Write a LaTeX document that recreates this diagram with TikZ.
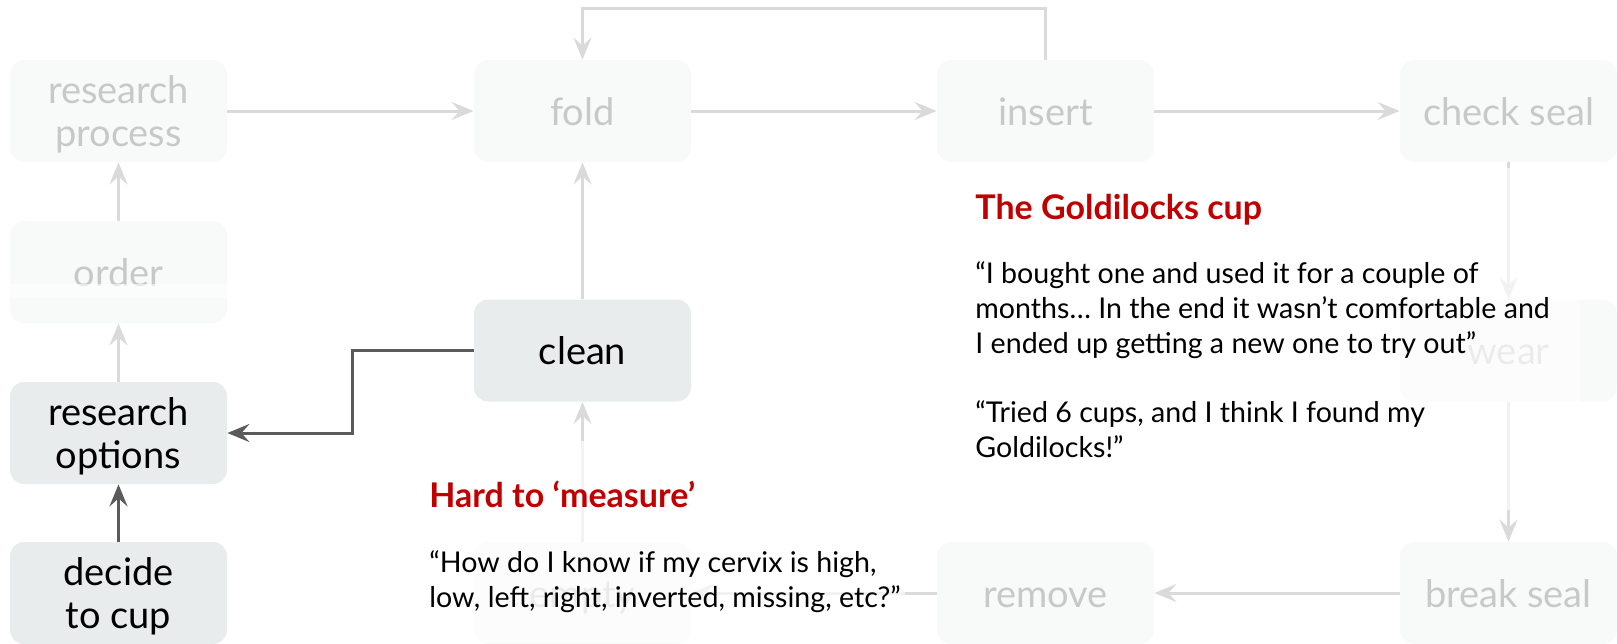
\documentclass[tikz,border=0pt]{standalone}
\usepackage{fontspec}
\setmainfont{Lato}
\usetikzlibrary{arrows.meta}
\definecolor{fadedfill}{HTML}{F8F9F9}
\definecolor{fadedtext}{HTML}{C8C8C8}
\definecolor{activefill}{HTML}{E8ECED}
\definecolor{lightline}{HTML}{DADADA}
\definecolor{darkline}{HTML}{5B5B5B}
\definecolor{quotered}{HTML}{C00000}
\tikzset{
  stepbox/.style={rounded corners=7pt, minimum width=108.5pt, minimum height=51pt,
    inner sep=0pt, align=center, text depth=0pt, font=\fontsize{19}{21.5}\selectfont},
  % single-line labels sit on a fixed line box
  oneline/.style={text height=14pt},
  faded/.style={stepbox, fill=fadedfill, text=fadedtext},
  active/.style={stepbox, fill=activefill, text=black},
  la/.style={draw=lightline, line width=1.5pt, -{Stealth[length=11pt,width=9pt,inset=4pt]}},
  da/.style={draw=darkline, line width=1.5pt, -{Stealth[length=11pt,width=9pt,inset=4pt]}},
  veil/.style={fill=white, opacity=0.65},
  qtitle/.style={anchor=base west, inner sep=0pt, text=quotered, font=\fontsize{17}{20}\bfseries},
  % multi-line quotes are anchored at the baseline of their last line
  qtext/.style={anchor=base west, inner sep=0pt, align=left, text=black, font=\fontsize{14.3}{17.5}\selectfont}
}
\begin{document}
\begin{tikzpicture}[x=0.5pt,y=-0.5pt]
\useasboundingbox (0,0) rectangle (1617,643);

% process steps
\node[faded]           (rp)     at (118.5,111) {research\\process};
\node[faded, oneline]  (fold)   at (582.5,111) {fold};
\node[faded, oneline]  (insert) at (1045.5,111) {insert};
\node[faded, oneline]  (check)  at (1508.5,111) {check seal};
\node[faded, oneline]  (order)  at (118.5,272) {order};
\node[active]          (ropt)   at (118.5,433) {research\\options};
\node[active, oneline] (clean)  at (582.5,350.5) {clean};
\node[faded, oneline]  (wear)   at (1508.5,350.5) {wear};
\node[active]          (decide) at (118.5,593) {decide\\to cup};
\node[faded, oneline]  (empty)  at (582.5,593) {empty};
\node[faded, oneline]  (remove) at (1045.5,593) {remove};
\node[faded, oneline]  (brk)    at (1508.5,593) {break seal};

% light strip across the order step
\fill[white, opacity=0.6] (10,284) rectangle (227,298);

\coordinate (loop) at (0,8);

% flow
\draw[la] (rp) -- (fold);
\draw[la] (fold) -- (insert);
\draw[la] (insert) -- (check);
\draw[la] (insert.north) -- (insert.north |- loop) -| (fold.north);
\draw[la] (order) -- (rp);
\draw[la] (ropt) -- (order);
\draw[la] (clean) -- (fold);
\draw[la] (check) -- (wear);
\draw[la] (wear) -- (brk);
\draw[la] (brk) -- (remove);
\draw[la] (remove) -- (empty);
\draw[la] (empty) -- (clean);
\draw[da] (decide) -- (ropt);
\draw[da] (clean.west) -- ++(-121,0) |- (ropt.east);

% quote panels
\fill[veil] (418,441) rectangle (905,643);
\fill[veil] (958,168) rectangle (1580,510);

\node[qtitle] (t1) at (429,507) {Hard to ‘measure’};
\node[qtext]  (q1) at (429,607) {“How do I know if my cervix is high,\\low, left, right, inverted, missing, etc?”};

\node[qtitle] (t2) at (975,219) {The Goldilocks cup};
\node[qtext]  (q2) at (975,353) {“I bought one and used it for a couple of\\months… In the end it wasn’t comfortable and\\I ended up getting a new one to try out”};
\node[qtext]  (q3) at (975,457) {“Tried 6 cups, and I think I found my\\Goldilocks!”};
\end{tikzpicture}
\end{document}
